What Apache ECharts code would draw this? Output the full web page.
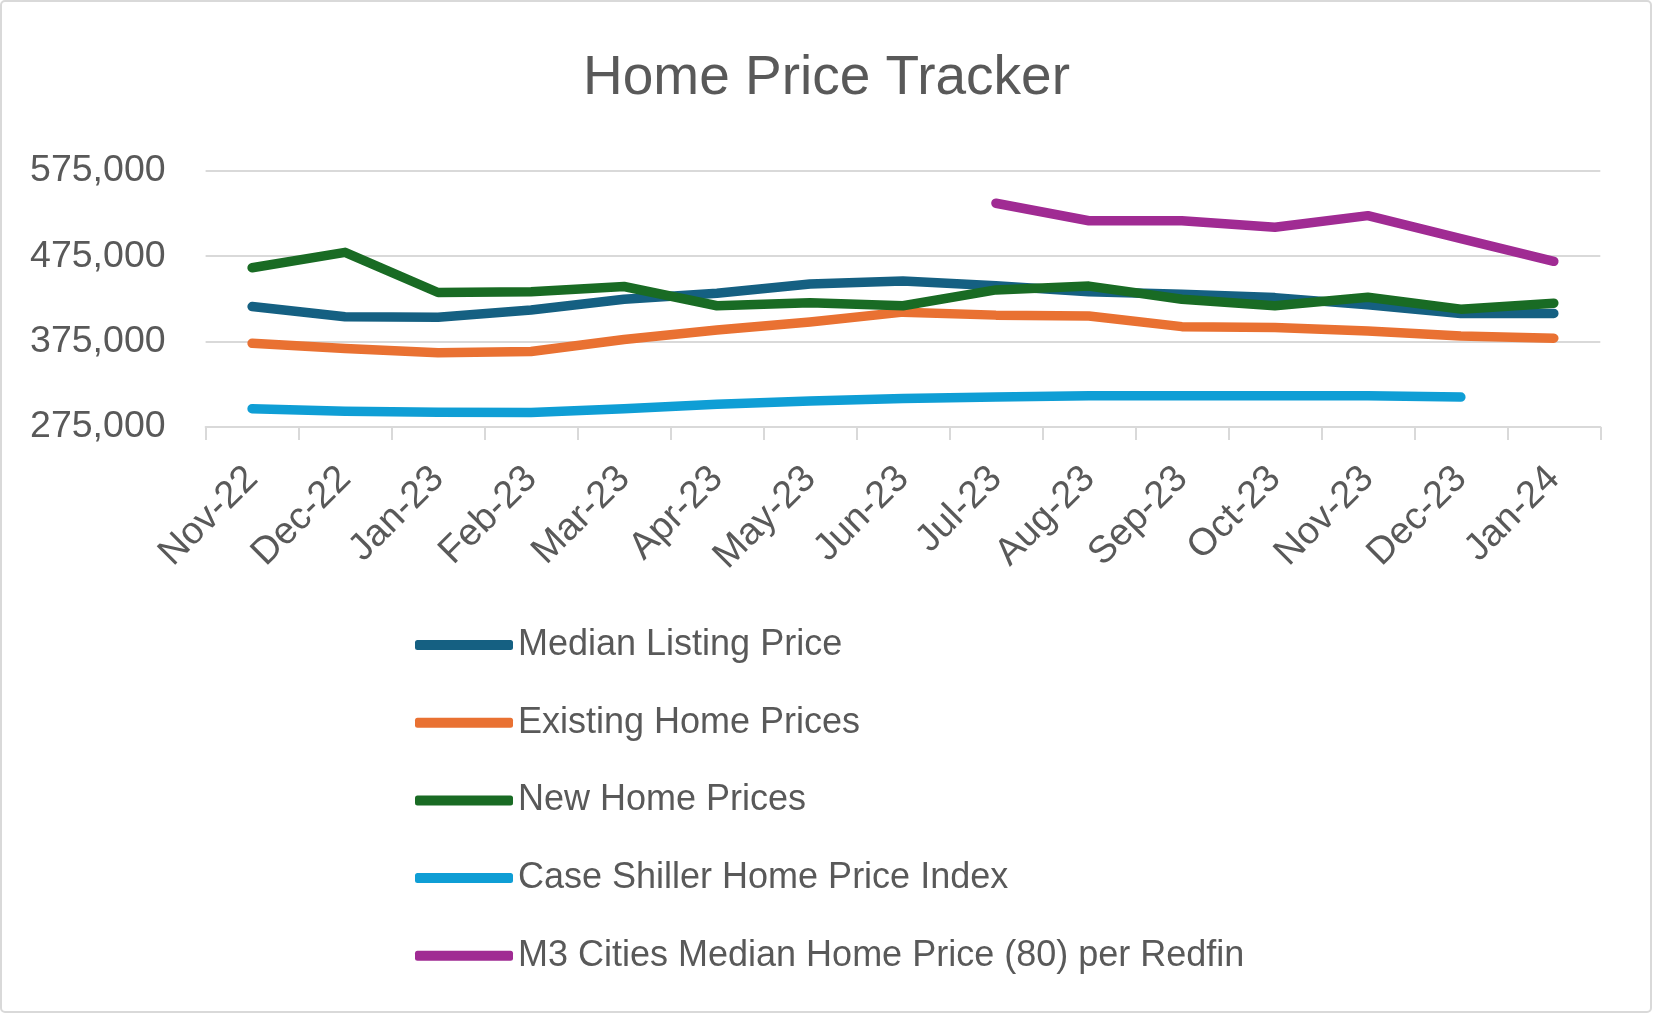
<!DOCTYPE html>
<html>
<head>
<meta charset="utf-8">
<script src="https://cdn.jsdelivr.net/npm/echarts@6/dist/echarts.min.js"></script>
<style>
html,body{margin:0;padding:0;background:#fff;}
#chart{width:1653px;height:1014px;}
</style>
</head>
<body>
<div id="chart"></div>
<script>
const categories = ['Nov-22','Dec-22','Jan-23','Feb-23','Mar-23','Apr-23','May-23','Jun-23','Jul-23','Aug-23','Sep-23','Oct-23','Nov-23','Dec-23','Jan-24'];
const medianListing = [416000,404000,403500,412000,424500,431500,442500,446000,440500,433500,430500,426500,418000,408000,408000];
const existingHome = [373000,367000,362000,363500,377500,388500,398000,409500,406000,405000,392500,391500,387500,381500,379000];
const newHome = [461500,479500,432500,433500,439500,417000,420500,417000,435500,440000,424500,417000,427000,413000,420000];
const caseShiller = [296300,293500,292300,292000,296500,301500,305500,308500,310000,311500,311500,311500,311500,310000,null];
const m3Cities = [null,null,null,null,null,null,null,null,537000,516500,516500,509000,522500,495500,469000];
const seriesNames = ['Median Listing Price','Existing Home Prices','New Home Prices','Case Shiller Home Price Index','M3 Cities Median Home Price (80) per Redfin'];
const seriesColors = ['#156082','#E97132','#196B24','#0F9ED5','#A02B93'];
const yTicks = {min:275000, max:575000, interval:100000};

const FONT = "'Liberation Sans', Arial, sans-serif";
const TXT = '#595959';
const GRID = '#D9D9D9';

const dataSets = [medianListing, existingHome, newHome, caseShiller, m3Cities];

const chart = echarts.init(document.getElementById('chart'), null, {renderer:'canvas'});
chart.setOption({
  animation:false,
  backgroundColor:'#fff',
  textStyle:{fontFamily:FONT},
  title:{
    text:'Home Price Tracker',
    left:'center',
    top:46,
    textStyle:{fontFamily:FONT,fontSize:55,fontWeight:'normal',color:TXT}
  },
  graphic:[{
    type:'rect',
    shape:{x:1,y:1,width:1650,height:1011,r:4},
    style:{fill:'none',stroke:GRID,lineWidth:2},
    silent:true
  }],
  grid:{left:205.6,right:52.7,top:170.8,bottom:587,containLabel:false},
  legend:{
    orient:'vertical',
    left:410,
    top:622,
    itemWidth:98,
    itemHeight:10,
    itemGap:41.7,
    icon:'roundRect',
    data:seriesNames,
    textStyle:{fontFamily:FONT,fontSize:36,color:TXT}
  },
  xAxis:{
    type:'category',
    data:categories,
    boundaryGap:true,
    axisLine:{show:true,lineStyle:{color:GRID,width:2}},
    axisTick:{show:true,length:13,lineStyle:{color:GRID,width:2}},
    axisLabel:{interval:0,rotate:45,fontFamily:FONT,fontSize:38,color:TXT,margin:46}
  },
  yAxis:{
    type:'value',
    min:yTicks.min,
    max:yTicks.max,
    interval:yTicks.interval,
    axisLine:{show:false},
    axisTick:{show:false},
    splitLine:{lineStyle:{color:GRID,width:2}},
    axisLabel:{fontFamily:FONT,fontSize:37.5,color:TXT,margin:40,
      formatter:v=>v.toLocaleString('en-US')}
  },
  series:dataSets.map((d,i)=>({
    name:seriesNames[i],
    type:'line',
    data:d,
    symbol:'none',
    showSymbol:false,
    connectNulls:false,
    color:seriesColors[i],
    lineStyle:{color:seriesColors[i],width:9.5,cap:'round',join:'round'},
    itemStyle:{color:seriesColors[i]}
  }))
});
</script>
</body>
</html>
